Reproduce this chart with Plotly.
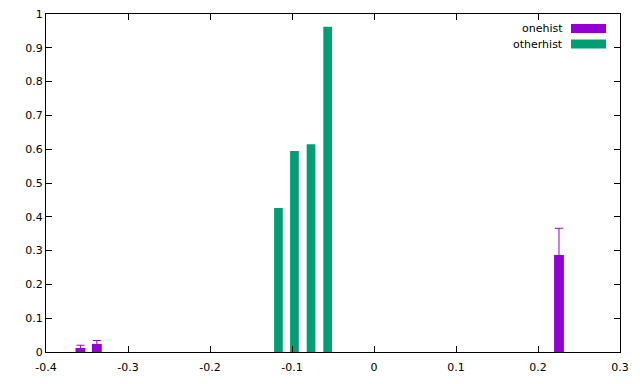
import plotly.graph_objects as go

# data
one_x = [-0.358, -0.338, 0.2256]
one_y = [0.012, 0.024, 0.287]
one_err = [0.008, 0.010, 0.079]

other_x = [-0.1165, -0.0970, -0.0768, -0.0565]
other_y = [0.426, 0.595, 0.615, 0.962]

xticks = [-0.4, -0.3, -0.2, -0.1, 0, 0.1, 0.2, 0.3]
xtick_text = ["-0.4", "-0.3", "-0.2", "-0.1", "0", "0.1", "0.2", "0.3"]
yticks = [0, 0.1, 0.2, 0.3, 0.4, 0.5, 0.6, 0.7, 0.8, 0.9, 1]
ytick_text = ["0", "0.1", "0.2", "0.3", "0.4", "0.5", "0.6", "0.7", "0.8", "0.9", "1"]

PURPLE = "#9400D3"
GREEN = "#009E73"

fig = go.Figure()
fig.add_trace(go.Bar(
    x=one_x, y=one_y, width=[0.012] * len(one_x), name="onehist",
    marker=dict(color=PURPLE, line=dict(width=0)),
    error_y=dict(type="data", array=one_err, color=PURPLE, thickness=1, width=4),
))
fig.add_trace(go.Bar(
    x=other_x, y=other_y, width=[0.0106] * len(other_x), name="otherhist",
    marker=dict(color=GREEN, line=dict(width=0)),
))

axis_common = dict(
    showgrid=False, zeroline=False, showline=True, linecolor="black", linewidth=1,
    mirror="allticks", ticks="inside", ticklen=6, tickcolor="black", tickwidth=1,
    tickfont=dict(family="DejaVu Sans", size=11, color="black"), automargin=False,
)

fig.update_layout(
    width=640, height=384,
    margin=dict(l=46, r=20, t=14, b=32),
    paper_bgcolor="white", plot_bgcolor="white",
    barmode="overlay", showlegend=False,
    xaxis=dict(range=[-0.4, 0.3], tickvals=xticks, ticktext=xtick_text,
               ticklabelstandoff=5, **axis_common),
    yaxis=dict(range=[0, 1], tickvals=yticks, ticktext=ytick_text, **axis_common),
)

# legend drawn manually (gnuplot style: text then sample)
legend_items = [("onehist", PURPLE), ("otherhist", GREEN)]
for i, (name, col) in enumerate(legend_items):
    yc = 1 - (28.5 + 15.5 * i - 14) / 338
    fig.add_annotation(
        xref="paper", yref="paper", x=(565 - 46) / 574, y=yc,
        text=name, showarrow=False, xanchor="right", yanchor="middle",
        font=dict(family="DejaVu Sans", size=11, color="black"),
    )
    fig.add_shape(
        type="rect", xref="paper", yref="paper",
        x0=(571 - 46) / 574, x1=(606 - 46) / 574,
        y0=yc - 4.5 / 338, y1=yc + 4.5 / 338,
        fillcolor=col, line=dict(width=0),
    )

fig.write_html("out.html")
